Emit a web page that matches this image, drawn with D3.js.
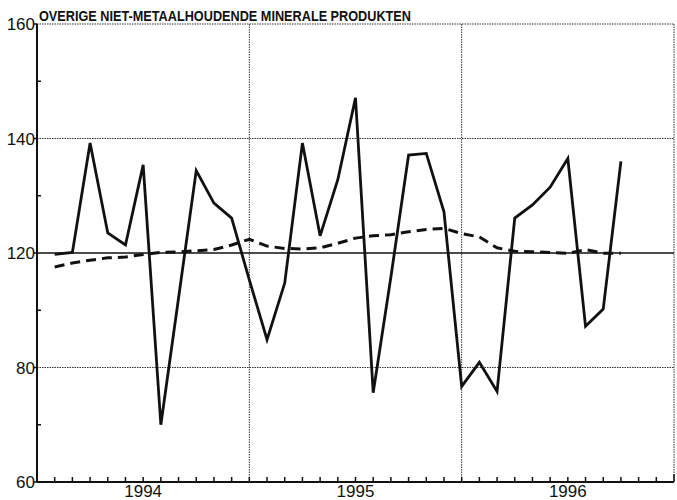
<html>
<head>
  <script src="https://d3js.org/d3.v7.min.js"></script>
  <style>
    body { margin: 0; background: white; }
    text { font-family: "Liberation Sans", Arial, sans-serif; fill: #111; }
    .grid { stroke: #333; stroke-width: 1px; stroke-dasharray: 1.5,1; }
  </style>
</head>
<body>
  <svg id="chart" width="677" height="500"></svg>
  <script>
    // monthly index (1 = Jan 1994 ... 33 = Sep 1996)
    const months = d3.range(1, 34);
    const monthly = [119.5, 120.1, 139.2, 123.5, 121.4, 135.4, 70, 104.3, 134.4, 128.7, 126.1,
      110.6, 89.7, 109.5, 139.2, 123.0, 132.8, 147.1, 75.6, 111.6, 137.1, 137.4, 127.2,
      76.7, 81.8, 75.8, 126.1, 128.4, 131.5, 136.5, 94.4, 100.4, 136.0];
    const trend = [115.1, 116.5, 117.5, 118.3, 118.6, 119.5, 120.1, 120.2, 120.4, 120.6, 121.4,
      122.4, 121.2, 120.8, 120.7, 120.9, 121.7, 122.6, 123.0, 123.2, 123.7, 124.1, 124.3,
      123.4, 122.8, 120.9, 120.3, 120.2, 120.1, 119.9, 120.6, 119.9, 119.9];
    const yLabels = [160, 140, 120, 80, 60];
    const yMinor = [150, 130, 100, 70];
    const years = ["1994", "1995", "1996"];
    const title = "OVERIGE NIET-METAALHOUDENDE MINERALE PRODUKTEN";

    const svg = d3.select("#chart");
    const margin = { top: 24, right: 3, bottom: 18, left: 37 };
    const w = 677 - margin.left - margin.right;
    const h = 500 - margin.top - margin.bottom;

    const x = d3.scaleLinear().domain([0, 36]).range([0, w]);
    const y = d3.scaleLinear().domain([60, 80, 120, 140, 160]).range([h, h * 3 / 4, h / 2, h / 4, 0]);

    const g = svg.append("g").attr("transform", "translate(" + margin.left + "," + margin.top + ")");

    // dotted grid
    g.selectAll("line.hgrid").data([160, 140, 80]).join("line")
      .attr("class", "grid")
      .attr("x1", 0).attr("x2", w)
      .attr("y1", d => y(d)).attr("y2", d => y(d));
    g.selectAll("line.vgrid").data([12, 24, 36]).join("line")
      .attr("class", "grid")
      .attr("x1", d => x(d)).attr("x2", d => x(d))
      .attr("y1", 0).attr("y2", h);

    // reference line at 120
    g.append("line")
      .attr("x1", 0).attr("x2", w)
      .attr("y1", y(120)).attr("y2", y(120))
      .attr("stroke", "#111").attr("stroke-width", 1.6);

    // left axis
    g.append("line").attr("x1", 0).attr("x2", 0).attr("y1", 0).attr("y2", h)
      .attr("stroke", "#111").attr("stroke-width", 2);
    g.selectAll("line.ymaj").data(yLabels).join("line")
      .attr("x1", -3).attr("x2", 0)
      .attr("y1", d => y(d)).attr("y2", d => y(d))
      .attr("stroke", "#111").attr("stroke-width", 1.5);
    g.selectAll("line.ymin").data(yMinor).join("line")
      .attr("x1", 0).attr("x2", 4)
      .attr("y1", d => y(d)).attr("y2", d => y(d))
      .attr("stroke", "#111").attr("stroke-width", 1.5);
    g.selectAll("text.ylab").data(yLabels).join("text")
      .attr("x", -2).attr("y", d => y(d) + 6)
      .attr("text-anchor", "end")
      .attr("font-size", 17)
      .text(d => d);

    // bottom axis
    g.append("line").attr("x1", 0).attr("x2", w).attr("y1", h).attr("y2", h)
      .attr("stroke", "#111").attr("stroke-width", 2);
    g.selectAll("line.xt").data(d3.range(1, 36)).join("line")
      .attr("x1", d => x(d)).attr("x2", d => x(d))
      .attr("y1", h).attr("y2", h - 5)
      .attr("stroke", "#111").attr("stroke-width", 1.5);
    g.append("line").attr("x1", w).attr("x2", w).attr("y1", h).attr("y2", h - 8)
      .attr("stroke", "#111").attr("stroke-width", 1.5);
    g.selectAll("text.xlab").data(years).join("text")
      .attr("x", (d, i) => x(i * 12 + 6))
      .attr("y", h + 15)
      .attr("text-anchor", "middle")
      .attr("font-size", 17)
      .text(d => d);

    // series
    const line = d3.line().x((d, i) => x(months[i])).y(d => y(d));
    g.append("path").datum(trend)
      .attr("d", line)
      .attr("fill", "none").attr("stroke", "#111")
      .attr("stroke-width", 3).attr("stroke-dasharray", "10,6");
    g.append("path").datum(monthly)
      .attr("d", line)
      .attr("fill", "none").attr("stroke", "#111")
      .attr("stroke-width", 2.8).attr("stroke-linejoin", "miter");

    // title
    svg.append("text")
      .attr("x", 39).attr("y", 21)
      .attr("font-size", 15).attr("font-weight", "bold")
      .attr("textLength", 372).attr("lengthAdjust", "spacingAndGlyphs")
      .text(title);
  </script>
</body>
</html>
